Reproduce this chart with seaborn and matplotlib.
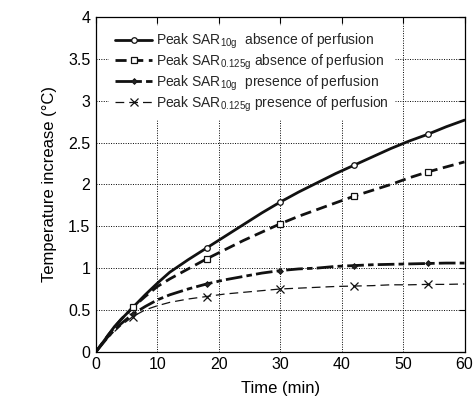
import matplotlib
matplotlib.use("Agg")
import matplotlib.pyplot as plt
import seaborn as sns
import pandas as pd

# Time samples (min)
time_min = [0, 1, 2, 3, 4, 6, 8, 10, 12, 15, 18, 21, 24, 27, 30, 33, 36, 39,
            42, 45, 48, 51, 54, 57, 60]

# Temperature increase (°C) for each case
sar10_abs = [0, 0.10, 0.20, 0.30, 0.38, 0.53, 0.68, 0.82, 0.95, 1.10, 1.24,
             1.38, 1.52, 1.66, 1.79, 1.91, 2.02, 2.13, 2.23, 2.33, 2.43, 2.52,
             2.60, 2.69, 2.77]
sar0125_abs = [0, 0.10, 0.20, 0.29, 0.38, 0.53, 0.66, 0.78, 0.87, 0.99, 1.11,
               1.22, 1.33, 1.43, 1.53, 1.62, 1.70, 1.78, 1.86, 1.93, 2.00,
               2.08, 2.15, 2.21, 2.27]
sar10_pres = [0, 0.09, 0.18, 0.26, 0.33, 0.45, 0.54, 0.62, 0.68, 0.75, 0.81,
              0.86, 0.90, 0.94, 0.97, 0.99, 1.00, 1.02, 1.03, 1.04, 1.045,
              1.05, 1.055, 1.06, 1.06]
sar0125_pres = [0, 0.09, 0.17, 0.24, 0.31, 0.42, 0.50, 0.55, 0.59, 0.63, 0.66,
                0.69, 0.71, 0.73, 0.75, 0.76, 0.77, 0.78, 0.785, 0.79, 0.80,
                0.80, 0.805, 0.805, 0.81]

labels = [
    r"Peak SAR$_{\mathregular{10g}}$  absence of perfusion",
    r"Peak SAR$_{\mathregular{0.125g}}$ absence of perfusion",
    r"Peak SAR$_{\mathregular{10g}}$  presence of perfusion",
    r"Peak SAR$_{\mathregular{0.125g}}$ presence of perfusion",
]
series = [sar10_abs, sar0125_abs, sar10_pres, sar0125_pres]
marker_times = [6, 18, 30, 42, 54]

sns.set_theme(style="white")
plt.rcParams["font.family"] = ["Liberation Sans", "DejaVu Sans"]
plt.rcParams["mathtext.fontset"] = "custom"
plt.rcParams["mathtext.rm"] = "Liberation Sans"

styles = [
    dict(linestyle="-", linewidth=2.0, marker="o", markersize=4.0,
         markerfacecolor="white", markeredgewidth=0.9),
    dict(linestyle=(0, (4, 2.0)), linewidth=2.0, marker="s", markersize=4.0,
         markerfacecolor="white", markeredgewidth=0.9),
    dict(linestyle=(0, (6, 1.5, 2, 1.5)), linewidth=2.0, marker="D",
         markersize=3.0, markerfacecolor="#222222", markeredgewidth=0.6),
    dict(linestyle=(0, (7, 4)), linewidth=0.9, marker="x", markersize=5.5,
         markeredgewidth=0.9),
]

fig = plt.figure(figsize=(4.77, 4.04), dpi=100)
ax = fig.add_axes([0.2013, 0.1295, 0.7725, 0.8277])

mark_idx = [time_min.index(t) for t in marker_times]
for vals, lab, st in zip(series, labels, styles):
    df = pd.DataFrame({"Time": time_min, "Temp": vals})
    sns.lineplot(data=df, x="Time", y="Temp", ax=ax, color="#111111")
    line = ax.get_lines()[-1]
    line.set_label(lab)
    line.set_linestyle(st["linestyle"])
    line.set_linewidth(st["linewidth"])
    line.set_marker(st["marker"])
    line.set_markersize(st["markersize"])
    line.set_markeredgewidth(st["markeredgewidth"])
    line.set_markeredgecolor("#111111")
    line.set_markerfacecolor(st.get("markerfacecolor", "#111111"))
    line.set_markevery(mark_idx)

ax.set_xlim(0, 60)
ax.set_ylim(0, 4)
ax.set_xticks(range(0, 61, 10))
ax.set_yticks([0, 0.5, 1, 1.5, 2, 2.5, 3, 3.5, 4])
ax.set_yticklabels(["0", "0.5", "1", "1.5", "2", "2.5", "3", "3.5", "4"])
ax.grid(True, color="black", linestyle=(0, (1, 1.5)), linewidth=0.7)
ax.tick_params(direction="in", length=4, width=0.8, top=True, right=True,
               labelsize=11.5, colors="black", pad=4)
for sp in ax.spines.values():
    sp.set_color("black")
    sp.set_linewidth(0.9)

ax.set_xlabel("Time (min)", fontsize=12, color="black", labelpad=6)
ax.set_ylabel("Temperature increase (\u00b0C)", fontsize=12, color="black",
              labelpad=8)

leg = ax.legend(handles=ax.get_lines(), loc="upper left",
                bbox_to_anchor=(0.017, 0.995), fontsize=10,
                frameon=True, handlelength=2.7, handletextpad=0.25,
                labelspacing=0.12, borderpad=0.4, fancybox=False)
leg.get_frame().set_edgecolor("white")
leg.get_frame().set_facecolor("white")
leg.get_frame().set_alpha(1.0)

fig.savefig("out.png", dpi=100)
